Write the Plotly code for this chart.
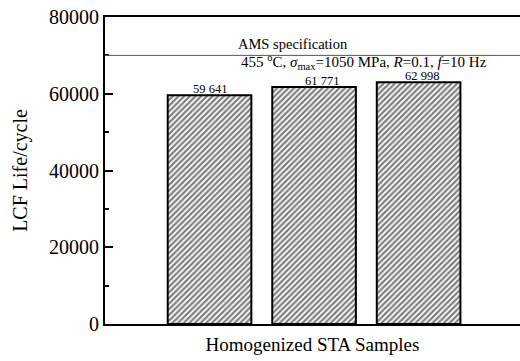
import plotly.graph_objects as go

samples = ["Sample 1", "Sample 2", "Sample 3"]
lcf_life = [59641, 61771, 62998]
value_labels = ["59 641", "61 771", "62 998"]
ams_spec = 70000
y_ticks = [0, 20000, 40000, 60000, 80000]

x_pos = list(range(len(samples)))
FONT = "Liberation Serif"

fig = go.Figure()
fig.add_trace(go.Bar(
    x=x_pos, y=lcf_life, width=0.8,
    marker=dict(color="white",
                line=dict(color="black", width=2),
                pattern=dict(shape="/", fgcolor="black", bgcolor="white", size=4, solidity=0.55)),
    hoverinfo="skip",
))

label_shift = [0, 8, 3]
for xi, v, lab, xs in zip(x_pos, lcf_life, value_labels, label_shift):
    fig.add_annotation(x=xi, y=v, text=lab, showarrow=False, yanchor="bottom",
                       xshift=xs, yshift=-2, borderpad=0,
                       font=dict(family=FONT, size=12.5, color="black"))

fig.add_shape(type="line", xref="paper", x0=0, x1=1, yref="y", y0=ams_spec, y1=ams_spec,
              line=dict(color="#555555", width=1))
fig.add_annotation(x=0.8, y=ams_spec, text="AMS specification", showarrow=False,
                   yanchor="bottom", yshift=1, font=dict(family=FONT, size=14.5, color="black"))
fig.add_annotation(x=1.48, y=ams_spec, text="455 <sup>o</sup>C, <i>σ</i><sub>max</sub>=1050 MPa, <i>R</i>=0.1, <i>f</i>=10 Hz",
                   showarrow=False, yanchor="top", yshift=4, borderpad=0,
                   font=dict(family=FONT, size=15, color="black"))

fig.update_layout(
    width=520, height=361,
    margin=dict(l=105, r=0, t=17, b=37, autoexpand=False),
    paper_bgcolor="white", plot_bgcolor="white",
    showlegend=False,
    font=dict(family=FONT, color="black"),
    xaxis=dict(range=[-1.0, 2.97], showticklabels=False, showgrid=False, zeroline=False,
               showline=True, linecolor="black", linewidth=2, mirror=True, ticks="",
               automargin=False,
               title=dict(text="Homogenized STA Samples", font=dict(family=FONT, size=19), standoff=13)),
    yaxis=dict(range=[0, 80000], tickvals=y_ticks, ticktext=[str(t) for t in y_ticks],
               showgrid=False, zeroline=False, showline=True, linecolor="black", linewidth=2,
               ticks="inside", ticklen=8, tickwidth=1.5, tickcolor="black",
               minor=dict(ticks="inside", ticklen=4, dtick=10000, tickcolor="black", tickwidth=1.5),
               tickfont=dict(family=FONT, size=20), automargin=False,
               title=dict(text="LCF Life/cycle", font=dict(family=FONT, size=20), standoff=16)),
)

fig.write_html("out.html", config={"displayModeBar": False},
               post_script="document.body.style.margin='0';document.body.style.overflow='hidden';")
